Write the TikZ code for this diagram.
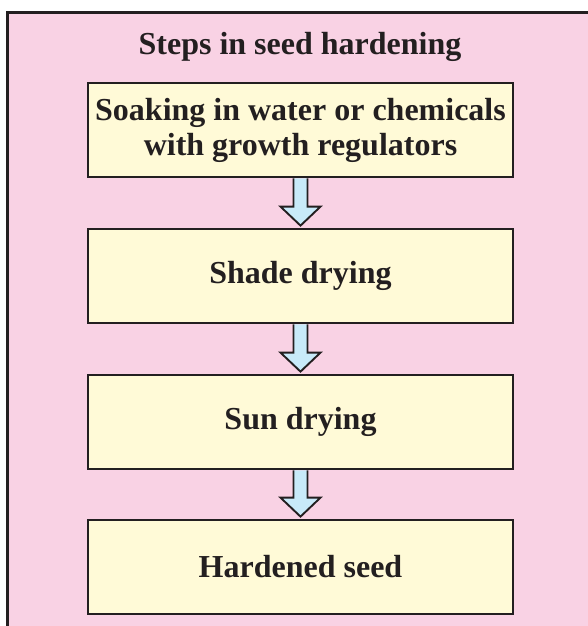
\documentclass[tikz,border=0pt]{standalone}
\usepackage{fontspec}
\setmainfont{Liberation Serif}
\usetikzlibrary{calc}
\definecolor{bgpink}{RGB}{249,210,228}
\definecolor{boxyellow}{RGB}{255,250,215}
\definecolor{arrowblue}{RGB}{200,234,249}
\definecolor{inkdark}{RGB}{35,31,32}
\tikzset{
  stepbox/.style={draw=inkdark, line width=2.8pt, fill=boxyellow,
    minimum width=425pt, minimum height=94pt, inner sep=0pt,
    align=center, font=\fontsize{32}{35}\selectfont\bfseries, text=inkdark},
  titletext/.style={font=\fontsize{32}{35}\selectfont\bfseries, text=inkdark, inner sep=0pt},
  blockarrow/.style={draw=inkdark, line width=1.9pt, fill=arrowblue, line join=miter}
}
\newcommand{\flowarrow}[2]{%
  \path let \p1=(#1.south), \p2=(#2.north) in
    [blockarrow] (\x1-7pt,\y1) -- (\x1-7pt,\y2+21pt) -- (\x1-20pt,\y2+21pt)
    -- (\x1,\y2+2pt) -- (\x1+20pt,\y2+21pt) -- (\x1+7pt,\y2+21pt) -- (\x1+7pt,\y1);%
}
\begin{document}
\begin{tikzpicture}[x=1pt,y=-1pt]
\useasboundingbox (0,0) rectangle (588,626);
\clip (0,0) rectangle (588,626);
\draw[draw=inkdark, line width=2.8pt, fill=bgpink] (7.5,12.5) rectangle (620,660);
\node[titletext, anchor=base] (title) at (300,55) {Steps in seed hardening};
\node[stepbox] (b1) at (300.5,130) {Soaking in water or chemicals\\with growth regulators};
\node[stepbox] (b2) at (300.5,276) {Shade drying};
\node[stepbox] (b3) at (300.5,422) {Sun drying};
\node[stepbox] (b4) at (300.5,567) {Hardened seed};
\flowarrow{b1}{b2}
\flowarrow{b2}{b3}
\flowarrow{b3}{b4}
\end{tikzpicture}
\end{document}
